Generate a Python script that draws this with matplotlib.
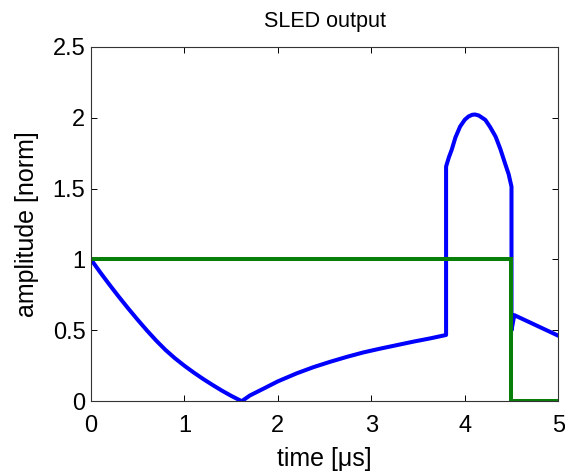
import matplotlib
matplotlib.use("Agg")
import matplotlib.pyplot as plt

# SLED output amplitude (blue) and klystron input (green)
t_out = [0.0, 0.1, 0.2, 0.3, 0.4, 0.5, 0.6, 0.7, 0.8, 0.9, 1.0, 1.1, 1.2, 1.3,
         1.4, 1.5, 1.613,
         1.7, 1.845, 2.0, 2.2, 2.38, 2.56, 2.74, 2.915, 3.09, 3.27, 3.45, 3.63, 3.8,
         3.8, 3.83, 3.86, 3.9, 3.95, 4.0, 4.04, 4.08, 4.11, 4.15, 4.22, 4.27,
         4.33, 4.38, 4.43, 4.47, 4.5,
         4.5, 4.53, 5.0]
a_out = [1.0, 0.908, 0.82, 0.735, 0.653, 0.574, 0.498, 0.426, 0.36, 0.302,
         0.25, 0.202, 0.157, 0.115, 0.075, 0.038, 0.0,
         0.04, 0.088, 0.14, 0.196, 0.24, 0.278, 0.313, 0.344, 0.37, 0.395,
         0.42, 0.443, 0.467,
         1.655, 1.72, 1.773, 1.86, 1.937, 1.985, 2.008, 2.02, 2.022, 2.015,
         1.984, 1.935, 1.866, 1.78, 1.679, 1.60, 1.513,
         0.50, 0.607, 0.462]
t_in = [0.0, 4.5, 4.5, 5.0]
a_in = [1.0, 1.0, 0.0, 0.0]

xticks = [0, 1, 2, 3, 4, 5]
yticks = [0, 0.5, 1, 1.5, 2, 2.5]

plt.rcParams["font.family"] = ["Liberation Sans", "DejaVu Sans"]
fig = plt.figure(figsize=(5.65, 4.72), dpi=100)
ax = fig.add_axes([0.161, 0.150, 0.827, 0.751])
ax.plot(t_out, a_out, color="#0000ff", lw=2.9, solid_joinstyle="round")
ax.plot(t_in, a_in, color="#087f08", lw=2.9, solid_joinstyle="miter")
ax.set_xlim(0, 5); ax.set_ylim(0, 2.5)
ax.set_xticks(xticks, [str(x) for x in xticks])
ax.set_yticks(yticks, ["0", "0.5", "1", "1.5", "2", "2.5"])
ax.tick_params(direction="in", top=True, right=True, length=4, width=0.7,
               labelsize=17)
ax.tick_params(axis="x", pad=10)
ax.tick_params(axis="y", pad=4)
for s in ax.spines.values():
    s.set_linewidth(0.8); s.set_color("#333333")
ax.set_title("SLED output", fontsize=15.5, pad=14)
ax.set_xlabel("time [\u03bcs]", fontsize=18, labelpad=7)
ax.set_ylabel("amplitude [norm]", fontsize=18, labelpad=10)
fig.savefig("out.png", dpi=100)
